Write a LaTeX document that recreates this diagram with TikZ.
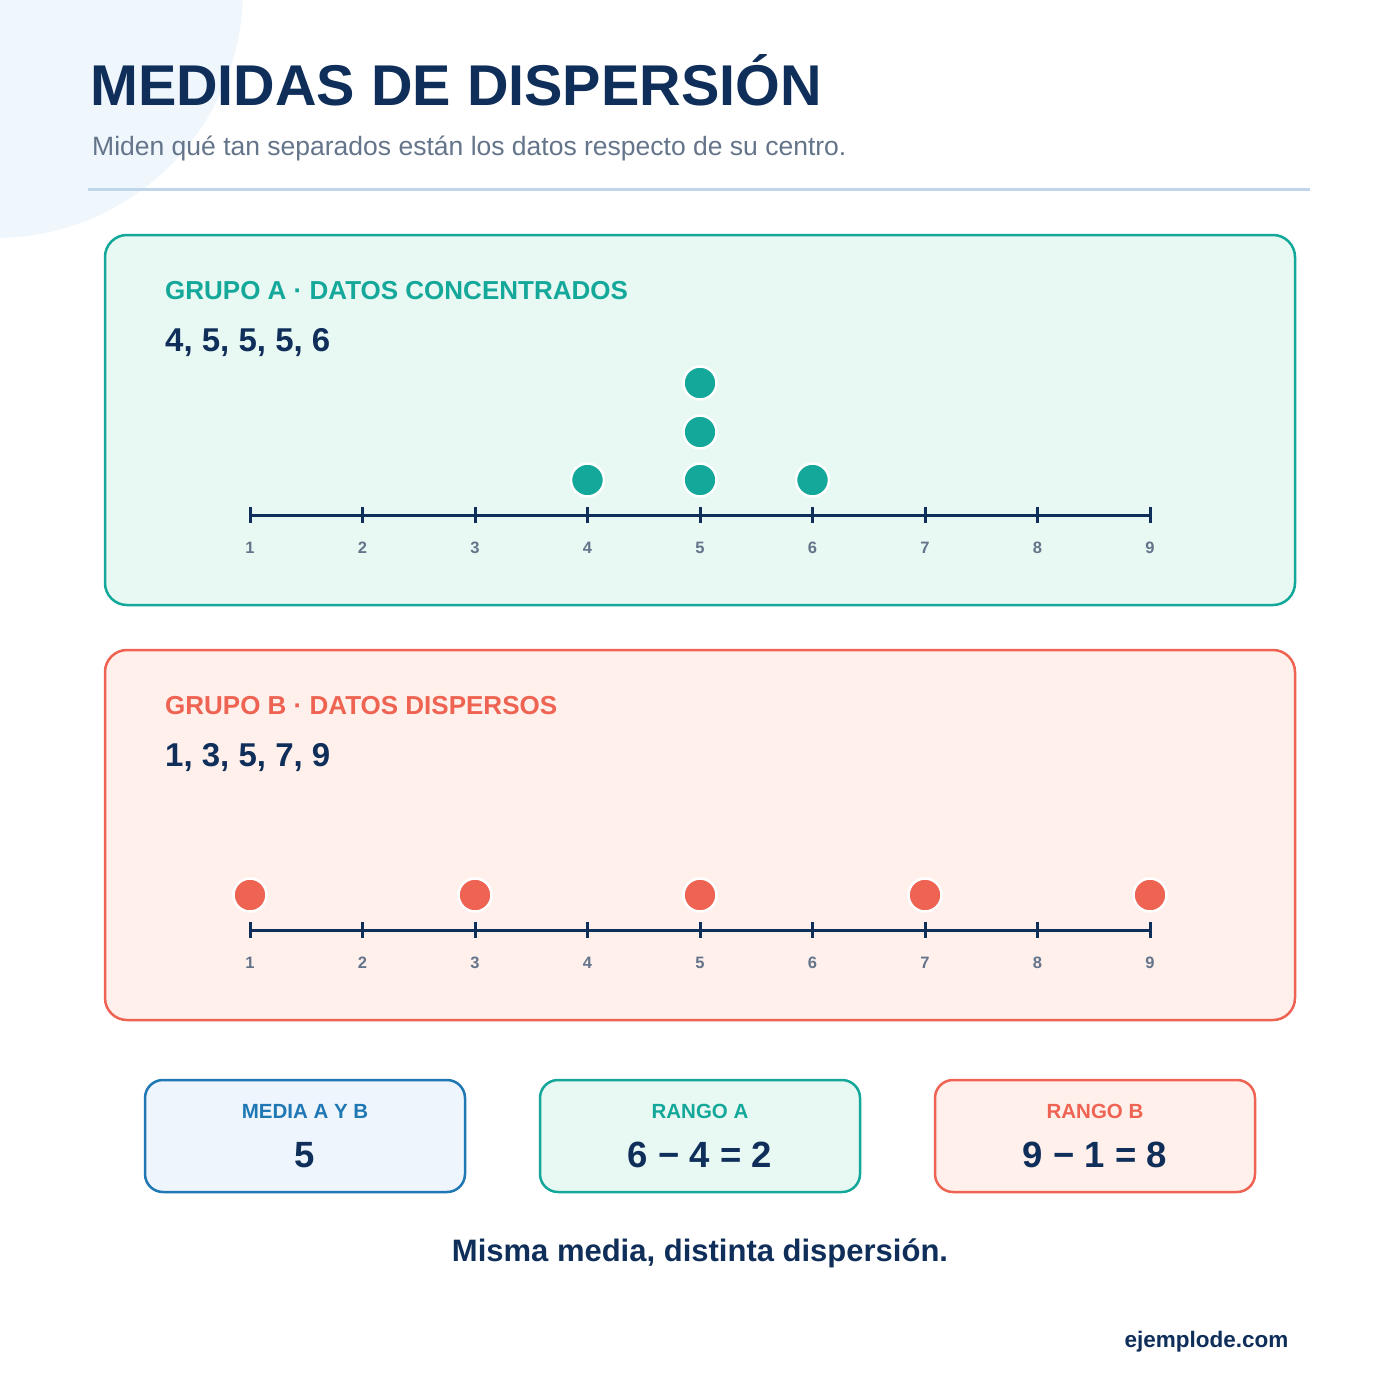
\documentclass[tikz,border=0pt]{standalone}
\usepackage{fontspec}
\setmainfont{Liberation Sans}
\begin{document}
\begin{tikzpicture}[x=1pt,y=-1pt,
 box/.style={line width=2.5pt,rounded corners=22pt},
 dot/.style={circle,minimum size=33pt,inner sep=0pt,draw=white,line width=2.5pt},
 tick/.style={font=\bfseries\fontsize{16.5}{16.5}\selectfont,text=g},
 axis/.style={line width=3pt,draw=n}]
\definecolor{n}{HTML}{0F2F5A}
\definecolor{g}{HTML}{64748B}
\definecolor{t}{HTML}{14A89A}
\definecolor{tf}{HTML}{E8F8F2}
\definecolor{r}{HTML}{EE6352}
\definecolor{rf}{HTML}{FFF0EC}
\definecolor{b}{HTML}{1F78B4}
\definecolor{bf}{HTML}{EEF5FD}
\definecolor{bg}{HTML}{EFF6FC}
\definecolor{ln}{HTML}{BFD6EA}
\useasboundingbox (0,0) rectangle (1400,1400);
\fill[white] (0,0) rectangle (1400,1400);
\begin{scope}
\clip (0,0) rectangle (1400,1400);
\fill[bg] (-5,-10) circle (248);
\end{scope}
\node[anchor=base west,inner sep=0,text=n,font=\bfseries\fontsize{57.5}{57.5}\selectfont] (title) at (90,105) {MEDIDAS DE DISPERSIÓN};
\node[anchor=base west,inner sep=0,text=g,font=\fontsize{26.5}{26.5}\selectfont] (sub) at (92,155) {Miden qué tan separados están los datos respecto de su centro.};
\draw[ln,line width=3pt] (88,189) -- (1310,189);
% Box A
\draw[box,draw=t,fill=tf] (105,235) rectangle (1295,605);
\node[anchor=base west,inner sep=0,text=t,font=\bfseries\fontsize{26}{26}\selectfont] (la) at (165,299) {GRUPO A · DATOS CONCENTRADOS};
\node[anchor=base west,inner sep=0,text=n,font=\bfseries\fontsize{33}{33}\selectfont] (da) at (165,351) {4, 5, 5, 5, 6};
\draw[axis] (250,515) -- (1150,515);
\foreach \i in {1,...,9}{
 \draw[axis] ({250+112.5*(\i-1)},507) -- ({250+112.5*(\i-1)},523);
 \node[tick] (ta\i) at ({250+112.5*(\i-1)},548) {\i};}
\node[dot,fill=t] (a1) at (587.5,480) {};
\node[dot,fill=t] (a2) at (700,480) {};
\node[dot,fill=t] (a3) at (700,432) {};
\node[dot,fill=t] (a4) at (700,383) {};
\node[dot,fill=t] (a5) at (812.5,480) {};
% Box B
\draw[box,draw=r,fill=rf] (105,650) rectangle (1295,1020);
\node[anchor=base west,inner sep=0,text=r,font=\bfseries\fontsize{26}{26}\selectfont] (lb) at (165,714) {GRUPO B · DATOS DISPERSOS};
\node[anchor=base west,inner sep=0,text=n,font=\bfseries\fontsize{33}{33}\selectfont] (db) at (165,766) {1, 3, 5, 7, 9};
\draw[axis] (250,930) -- (1150,930);
\foreach \i in {1,...,9}{
 \draw[axis] ({250+112.5*(\i-1)},922) -- ({250+112.5*(\i-1)},938);
 \node[tick] (tb\i) at ({250+112.5*(\i-1)},963) {\i};}
\foreach \i in {1,3,5,7,9}{
 \node[dot,fill=r] (b\i) at ({250+112.5*(\i-1)},895) {};}
% bottom boxes
\draw[box,rounded corners=18pt,draw=b,fill=bf] (145,1080) rectangle (465,1192);
\draw[box,rounded corners=18pt,draw=t,fill=tf] (540,1080) rectangle (860,1192);
\draw[box,rounded corners=18pt,draw=r,fill=rf] (935,1080) rectangle (1255,1192);
\node[text=b,font=\bfseries\fontsize{20.5}{20.5}\selectfont] (m1) at (305,1111) {MEDIA A Y B};
\node[text=n,font=\bfseries\fontsize{36.5}{36.5}\selectfont] (m2) at (305,1155) {5};
\node[text=t,font=\bfseries\fontsize{20.5}{20.5}\selectfont] (r1) at (700,1111) {RANGO A};
\node[text=n,font=\bfseries\fontsize{36.5}{36.5}\selectfont] (r2) at (700,1155) {6 − 4 = 2};
\node[text=r,font=\bfseries\fontsize{20.5}{20.5}\selectfont] (s1) at (1095,1111) {RANGO B};
\node[text=n,font=\bfseries\fontsize{36.5}{36.5}\selectfont] (s2) at (1095,1155) {9 − 1 = 8};
\node[text=n,font=\bfseries\fontsize{31}{31}\selectfont] (concl) at (700,1253) {Misma media, distinta dispersión.};
\node[anchor=east,text=n,font=\bfseries\fontsize{22.5}{22.5}\selectfont] (web) at (1292,1342) {ejemplode.com};
\end{tikzpicture}
\end{document}
